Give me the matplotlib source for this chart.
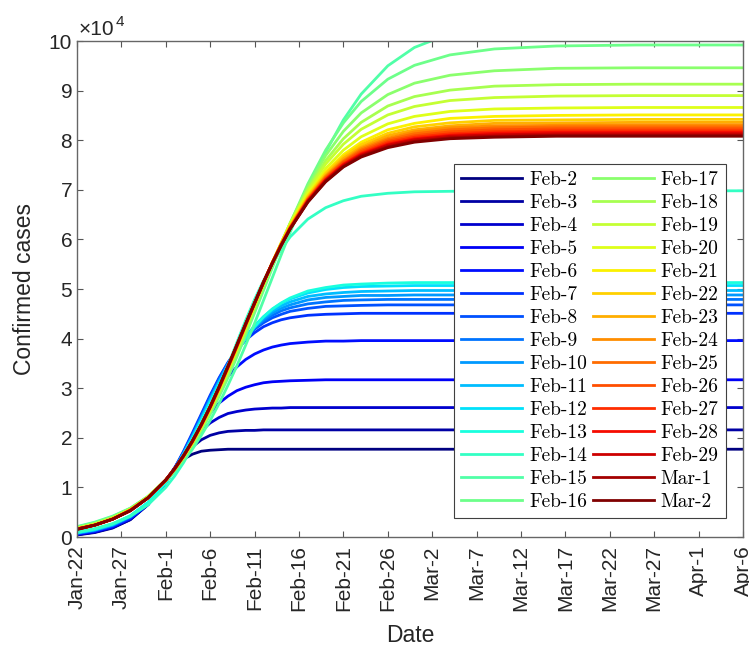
import numpy as np
import matplotlib
matplotlib.use("Agg")
import matplotlib.pyplot as plt
from matplotlib.font_manager import FontProperties
from matplotlib.ticker import FuncFormatter
from datetime import datetime, timedelta

# ---- data ----
fit_labels = ["Feb-2", "Feb-3", "Feb-4", "Feb-5", "Feb-6", "Feb-7", "Feb-8", "Feb-9",
              "Feb-10", "Feb-11", "Feb-12", "Feb-13", "Feb-14", "Feb-15", "Feb-16",
              "Feb-17", "Feb-18", "Feb-19", "Feb-20", "Feb-21", "Feb-22", "Feb-23",
              "Feb-24", "Feb-25", "Feb-26", "Feb-27", "Feb-28", "Feb-29", "Mar-1", "Mar-2"]
tick_labels = ["Jan-22", "Jan-27", "Feb-1", "Feb-6", "Feb-11", "Feb-16", "Feb-21", "Feb-26",
               "Mar-2", "Mar-7", "Mar-12", "Mar-17", "Mar-22", "Mar-27", "Apr-1", "Apr-6"]
start_date = "2020-01-22"
# days after Jan-22 at which each fitted curve was read
sample_days = [0, 2, 4, 6, 8, 10, 11, 12, 13, 14, 15, 16, 17, 18, 19, 20, 21, 22, 23, 24,
               26, 28, 30, 32, 35, 38, 42, 47, 54, 63, 75]

# confirmed cases of each fitted curve, in hundreds of cases
cases_hundreds = [
    [4, 9, 18, 35, 66, 115, 139, 157, 167, 173, 175, 176, 177, 177, 177, 177, 177, 177, 177, 177,
     177, 177, 177, 177, 177, 177, 177, 177, 177, 177, 177],
    [5, 10, 19, 35, 65, 112, 138, 163, 182, 196, 205, 210, 213, 214, 215, 215, 216, 216, 216, 216,
     216, 216, 216, 216, 216, 216, 216, 216, 216, 216, 216],
    [5, 10, 20, 37, 66, 112, 140, 168, 193, 214, 230, 241, 249, 253, 256, 258, 259, 260, 260, 261,
     261, 261, 261, 261, 261, 261, 261, 261, 261, 261, 261],
    [6, 11, 20, 37, 66, 110, 138, 168, 198, 226, 250, 270, 284, 295, 302, 307, 311, 313, 314, 315,
     316, 317, 317, 317, 317, 317, 317, 317, 317, 317, 317],
    [6, 12, 21, 38, 66, 110, 138, 170, 205, 239, 271, 300, 324, 343, 358, 369, 377, 383, 387, 390,
     393, 395, 395, 396, 396, 396, 396, 396, 396, 396, 396],
    [7, 12, 22, 38, 66, 110, 139, 173, 210, 248, 286, 321, 352, 377, 397, 412, 424, 432, 438, 442,
     447, 449, 450, 451, 451, 451, 451, 451, 451, 451, 451],
    [7, 13, 23, 40, 67, 110, 138, 171, 207, 245, 283, 319, 351, 379, 401, 419, 432, 442, 449, 455,
     461, 465, 466, 467, 468, 468, 468, 468, 468, 468, 468],
    [8, 14, 24, 41, 68, 110, 138, 169, 204, 242, 279, 316, 349, 377, 401, 421, 436, 447, 456, 462,
     470, 474, 477, 478, 479, 479, 479, 479, 479, 479, 479],
    [8, 14, 24, 41, 68, 110, 137, 168, 203, 240, 278, 314, 348, 377, 402, 423, 439, 452, 461, 468,
     478, 483, 485, 487, 487, 488, 488, 488, 488, 488, 488],
    [9, 15, 25, 42, 69, 110, 137, 168, 202, 238, 276, 312, 347, 377, 403, 425, 442, 456, 466, 474,
     485, 490, 493, 495, 496, 497, 497, 497, 497, 497, 497],
    [9, 15, 26, 42, 69, 110, 136, 167, 200, 236, 273, 310, 345, 376, 403, 426, 444, 459, 471, 480,
     492, 499, 503, 505, 506, 507, 507, 507, 507, 507, 507],
    [9, 16, 26, 43, 70, 110, 136, 165, 198, 233, 270, 306, 341, 373, 400, 424, 444, 460, 472, 482,
     496, 503, 508, 510, 512, 513, 513, 513, 513, 513, 513],
    [11, 17, 27, 42, 65, 100, 123, 150, 182, 218, 258, 301, 346, 392, 437, 479, 517, 551, 580, 605,
     641, 664, 678, 687, 693, 696, 697, 698, 698, 698, 698],
    [21, 30, 42, 58, 81, 112, 131, 153, 177, 205, 235, 269, 306, 345, 387, 431, 477, 523, 569, 614,
     700, 776, 841, 893, 950, 987, 1015, 1033, 1041, 1044, 1045],
    [20, 29, 41, 58, 82, 115, 135, 158, 185, 214, 247, 283, 321, 363, 407, 452, 497, 543, 588, 632,
     712, 780, 835, 878, 923, 951, 972, 984, 990, 992, 992],
    [19, 27, 40, 57, 82, 115, 136, 160, 187, 217, 251, 288, 327, 369, 413, 458, 503, 548, 592, 633,
     707, 769, 818, 855, 892, 915, 931, 940, 945, 946, 946],
    [18, 27, 39, 56, 81, 115, 136, 161, 188, 219, 254, 291, 331, 374, 418, 463, 507, 551, 593, 632,
     702, 759, 803, 836, 869, 888, 901, 909, 912, 913, 913],
    [18, 26, 38, 56, 80, 115, 137, 161, 189, 221, 256, 294, 335, 377, 421, 466, 510, 553, 593, 632,
     698, 752, 792, 822, 851, 868, 880, 886, 889, 890, 890],
    [17, 25, 37, 55, 80, 115, 137, 162, 191, 223, 258, 297, 338, 380, 424, 468, 512, 554, 593, 630,
     693, 743, 780, 807, 833, 848, 858, 863, 865, 866, 866],
    [17, 25, 37, 55, 80, 115, 137, 162, 191, 224, 259, 298, 339, 382, 425, 469, 512, 553, 591, 627,
     688, 736, 771, 796, 821, 834, 844, 848, 850, 851, 851],
    [16, 24, 37, 54, 80, 115, 137, 163, 192, 225, 260, 299, 340, 383, 427, 471, 513, 554, 592, 627,
     687, 733, 767, 791, 814, 827, 835, 840, 841, 842, 842],
    [16, 24, 36, 54, 79, 115, 137, 163, 192, 225, 261, 300, 341, 384, 427, 471, 513, 553, 591, 625,
     684, 729, 763, 786, 809, 821, 829, 834, 835, 836, 836],
    [16, 24, 36, 54, 79, 115, 137, 163, 192, 225, 261, 300, 341, 384, 427, 471, 513, 553, 590, 624,
     682, 727, 759, 783, 804, 817, 825, 829, 830, 831, 831],
    [16, 24, 36, 54, 79, 115, 137, 163, 193, 225, 261, 300, 342, 384, 428, 471, 513, 553, 590, 624,
     681, 725, 757, 780, 801, 813, 821, 825, 827, 827, 827],
    [16, 24, 36, 54, 79, 115, 137, 163, 193, 226, 262, 301, 342, 385, 428, 471, 513, 552, 589, 623,
     680, 723, 755, 777, 798, 809, 817, 821, 823, 823, 823],
    [16, 24, 36, 54, 79, 115, 138, 164, 193, 226, 262, 301, 343, 385, 429, 471, 513, 552, 589, 622,
     679, 721, 752, 774, 795, 806, 813, 817, 819, 819, 819],
    [16, 24, 36, 53, 79, 115, 138, 164, 193, 226, 263, 302, 343, 386, 429, 472, 513, 553, 589, 622,
     678, 720, 751, 772, 792, 803, 810, 814, 816, 816, 816],
    [16, 24, 36, 53, 79, 115, 138, 164, 193, 227, 263, 302, 344, 386, 430, 472, 514, 553, 589, 622,
     677, 719, 749, 770, 790, 801, 808, 811, 813, 813, 813],
    [16, 24, 36, 53, 79, 115, 138, 164, 194, 227, 263, 302, 344, 387, 430, 472, 513, 552, 588, 621,
     676, 717, 747, 768, 787, 798, 805, 808, 810, 810, 810],
    [15, 24, 36, 53, 79, 115, 138, 164, 194, 227, 263, 303, 344, 387, 430, 472, 514, 552, 588, 621,
     675, 716, 746, 766, 785, 796, 803, 806, 808, 808, 808],
]

bad = [(lab, len(r)) for lab, r in zip(fit_labels, cases_hundreds) if len(r) != len(sample_days)]
if bad:
    raise SystemExit("row length mismatch: " + str(bad))

# ---- styling ----
plt.rcParams["font.family"] = ["Liberation Sans", "DejaVu Sans"]
tc = "#262626"

start = datetime.strptime(start_date, "%Y-%m-%d")
x = [start + timedelta(days=d) for d in sample_days]
tick_dates = [datetime.strptime(s + "-2020", "%b-%d-%Y") for s in tick_labels]

fig = plt.figure(figsize=(7.49, 6.46), dpi=100)
ax = fig.add_axes([0.1028, 0.1687, 0.8892, 0.7678])
colors = plt.cm.jet(np.linspace(0, 1, len(fit_labels)))
for lab, row, col in zip(fit_labels, cases_hundreds, colors):
    ax.plot(x, np.array(row) * 100, color=col, lw=2.0, label=lab,
            solid_joinstyle="round")

ax.set_xlim(tick_dates[0], tick_dates[-1])
ax.set_ylim(0, 100000)
ax.set_xticks(tick_dates)
ax.set_xticklabels(tick_labels, rotation=90)
ax.set_yticks(np.arange(0, 100001, 10000))
ax.yaxis.set_major_formatter(FuncFormatter(lambda v, p: f"{v/1e4:g}"))
ax.tick_params(direction="in", top=True, right=True, length=4.5, width=0.8,
               color="#555555", labelsize=15, labelcolor=tc)
ax.tick_params(axis="x", pad=6)
for s in ax.spines.values():
    s.set_color("#666666")
    s.set_linewidth(1.0)
ax.set_xlabel("Date", fontsize=16.5, color=tc, labelpad=9)
ax.set_ylabel("Confirmed cases", fontsize=16.5, color=tc, labelpad=9)
ax.annotate("\u00d710", xy=(0, 1), xycoords="axes fraction", xytext=(1, 4.3),
            textcoords="offset points", fontsize=15, color=tc, va="baseline")
ax.annotate("4", xy=(0, 1), xycoords="axes fraction", xytext=(27.8, 10.5),
            textcoords="offset points", fontsize=11, color=tc, va="baseline")

leg = ax.legend(ncol=2, loc="upper right", bbox_to_anchor=(0.9745, 0.752),
                borderaxespad=0, prop=FontProperties(family="cmr10", size=14),
                handlelength=3.15, handletextpad=0.35, columnspacing=0.3,
                labelspacing=0.26, borderpad=0.37, fancybox=False, framealpha=1)
leg.get_frame().set_edgecolor("#404040")
leg.get_frame().set_linewidth(0.8)

fig.savefig("out.png", dpi=100)
